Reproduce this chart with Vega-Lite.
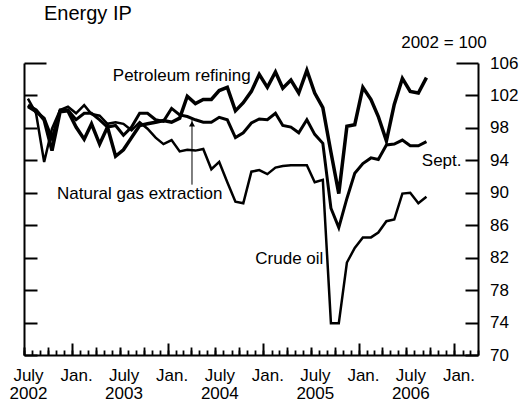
{
  "$schema": "https://vega.github.io/schema/vega-lite/v6.json",
  "width": 454,
  "height": 292,
  "autosize": {"type": "none"},
  "padding": {"left": 24, "top": 63, "right": 42, "bottom": 49},
  "background": "white",
  "title": {"text": "Energy IP", "anchor": "start", "frame": "group", "dx": 20, "fontSize": 20, "fontWeight": "normal", "font": "Liberation Sans", "color": "black", "offset": 10},
  "config": {"view": {"stroke": null}, "font": "Liberation Sans"},
  "resolve": {"axis": {"x": "independent", "y": "independent"}},
  "layer": [
    {
      "data": {"values": [
        {"date": "2002-07-16", "Petroleum refining": 100.8, "Natural gas extraction": 100.6, "Crude oil": 101.6},
        {"date": "2002-08-16", "Petroleum refining": 100.2, "Natural gas extraction": 100.0, "Crude oil": 99.8},
        {"date": "2002-09-16", "Petroleum refining": 99.0, "Natural gas extraction": 99.2, "Crude oil": 93.8},
        {"date": "2002-10-16", "Petroleum refining": 95.2, "Natural gas extraction": 96.7, "Crude oil": 97.9},
        {"date": "2002-11-16", "Petroleum refining": 100.0, "Natural gas extraction": 100.2, "Crude oil": 100.2},
        {"date": "2002-12-16", "Petroleum refining": 100.1, "Natural gas extraction": 100.2, "Crude oil": 100.6},
        {"date": "2003-01-16", "Petroleum refining": 98.1, "Natural gas extraction": 99.0, "Crude oil": 99.8},
        {"date": "2003-02-16", "Petroleum refining": 96.6, "Natural gas extraction": 99.8, "Crude oil": 100.8},
        {"date": "2003-03-16", "Petroleum refining": 98.5, "Natural gas extraction": 99.8, "Crude oil": 99.7},
        {"date": "2003-04-16", "Petroleum refining": 96.0, "Natural gas extraction": 99.0, "Crude oil": 99.5},
        {"date": "2003-05-16", "Petroleum refining": 98.1, "Natural gas extraction": 98.1, "Crude oil": 98.5},
        {"date": "2003-06-16", "Petroleum refining": 94.5, "Natural gas extraction": 98.3, "Crude oil": 98.7},
        {"date": "2003-07-16", "Petroleum refining": 95.3, "Natural gas extraction": 97.1, "Crude oil": 98.5},
        {"date": "2003-08-16", "Petroleum refining": 96.8, "Natural gas extraction": 98.1, "Crude oil": 97.7},
        {"date": "2003-09-16", "Petroleum refining": 98.3, "Natural gas extraction": 99.8, "Crude oil": 98.7},
        {"date": "2003-10-16", "Petroleum refining": 98.5, "Natural gas extraction": 99.8, "Crude oil": 97.9},
        {"date": "2003-11-16", "Petroleum refining": 98.7, "Natural gas extraction": 99.0, "Crude oil": 96.8},
        {"date": "2003-12-16", "Petroleum refining": 98.9, "Natural gas extraction": 98.8, "Crude oil": 96.0},
        {"date": "2004-01-16", "Petroleum refining": 98.7, "Natural gas extraction": 100.4, "Crude oil": 96.5},
        {"date": "2004-02-16", "Petroleum refining": 99.2, "Natural gas extraction": 99.6, "Crude oil": 95.1},
        {"date": "2004-03-16", "Petroleum refining": 101.9, "Natural gas extraction": 99.4, "Crude oil": 95.3},
        {"date": "2004-04-16", "Petroleum refining": 101.0, "Natural gas extraction": 99.0, "Crude oil": 95.2},
        {"date": "2004-05-16", "Petroleum refining": 101.5, "Natural gas extraction": 98.7, "Crude oil": 95.4},
        {"date": "2004-06-16", "Petroleum refining": 101.5, "Natural gas extraction": 98.7, "Crude oil": 92.9},
        {"date": "2004-07-16", "Petroleum refining": 102.6, "Natural gas extraction": 99.3, "Crude oil": 93.8},
        {"date": "2004-08-16", "Petroleum refining": 103.0, "Natural gas extraction": 99.0, "Crude oil": 91.3},
        {"date": "2004-09-16", "Petroleum refining": 100.1, "Natural gas extraction": 96.8, "Crude oil": 88.9},
        {"date": "2004-10-16", "Petroleum refining": 101.1, "Natural gas extraction": 97.4, "Crude oil": 88.7},
        {"date": "2004-11-16", "Petroleum refining": 102.5, "Natural gas extraction": 98.6, "Crude oil": 92.6},
        {"date": "2004-12-16", "Petroleum refining": 104.6, "Natural gas extraction": 99.1, "Crude oil": 92.8},
        {"date": "2005-01-16", "Petroleum refining": 103.0, "Natural gas extraction": 99.0, "Crude oil": 92.3},
        {"date": "2005-02-16", "Petroleum refining": 104.9, "Natural gas extraction": 99.8, "Crude oil": 93.1},
        {"date": "2005-03-16", "Petroleum refining": 102.9, "Natural gas extraction": 98.3, "Crude oil": 93.3},
        {"date": "2005-04-16", "Petroleum refining": 103.9, "Natural gas extraction": 98.1, "Crude oil": 93.4},
        {"date": "2005-05-16", "Petroleum refining": 102.3, "Natural gas extraction": 97.4, "Crude oil": 93.4},
        {"date": "2005-06-16", "Petroleum refining": 105.1, "Natural gas extraction": 99.0, "Crude oil": 93.4},
        {"date": "2005-07-16", "Petroleum refining": 102.3, "Natural gas extraction": 97.2, "Crude oil": 91.3},
        {"date": "2005-08-16", "Petroleum refining": 100.5, "Natural gas extraction": 96.1, "Crude oil": 91.6},
        {"date": "2005-09-16", "Petroleum refining": 95.0, "Natural gas extraction": 88.1, "Crude oil": 73.9},
        {"date": "2005-10-16", "Petroleum refining": 89.9, "Natural gas extraction": 85.7, "Crude oil": 73.9},
        {"date": "2005-11-16", "Petroleum refining": 98.2, "Natural gas extraction": 89.3, "Crude oil": 81.4},
        {"date": "2005-12-16", "Petroleum refining": 98.4, "Natural gas extraction": 92.4, "Crude oil": 83.2},
        {"date": "2006-01-16", "Petroleum refining": 103.0, "Natural gas extraction": 93.6, "Crude oil": 84.5},
        {"date": "2006-02-16", "Petroleum refining": 101.5, "Natural gas extraction": 94.3, "Crude oil": 84.5},
        {"date": "2006-03-16", "Petroleum refining": 99.4, "Natural gas extraction": 94.1, "Crude oil": 85.1},
        {"date": "2006-04-16", "Petroleum refining": 96.4, "Natural gas extraction": 95.9, "Crude oil": 86.5},
        {"date": "2006-05-16", "Petroleum refining": 100.9, "Natural gas extraction": 96.0, "Crude oil": 86.7},
        {"date": "2006-06-16", "Petroleum refining": 104.1, "Natural gas extraction": 96.5, "Crude oil": 89.9},
        {"date": "2006-07-16", "Petroleum refining": 102.5, "Natural gas extraction": 95.8, "Crude oil": 90.0},
        {"date": "2006-08-16", "Petroleum refining": 102.3, "Natural gas extraction": 95.8, "Crude oil": 88.7},
        {"date": "2006-09-16", "Petroleum refining": 104.2, "Natural gas extraction": 96.3, "Crude oil": 89.5}
      ]},
      "transform": [{"fold": ["Petroleum refining", "Natural gas extraction", "Crude oil"], "as": ["series", "value"]}],
      "mark": {"type": "line", "color": "black", "strokeJoin": "miter"},
      "encoding": {
        "x": {
          "field": "date", "type": "temporal",
          "scale": {"domain": [{"year": 2002, "month": 7, "date": 1}, {"year": 2007, "month": 4, "date": 1}]},
          "axis": {
            "orient": "bottom", "title": null, "grid": false,
            "tickCount": {"interval": "month", "step": 1},
            "tickSize": {"condition": {"test": "datum.value > 0", "value": -5}, "value": -5},
            "tickWidth": 1.8, "tickColor": "black",
            "domainColor": "black", "domainWidth": 2,
            "labels": false
          }
        },
        "y": {
          "field": "value", "type": "quantitative",
          "scale": {"domain": [70, 106], "nice": false, "zero": false},
          "axis": {
            "orient": "right", "title": null, "grid": false,
            "values": [70, 74, 78, 82, 86, 90, 94, 98, 102, 106],
            "tickSize": {"condition": {"test": "datum.value == 106", "value": -22}, "value": -13},
            "labelPadding": {"condition": {"test": "datum.value == 106", "value": 33.5}, "value": 24.5},
            "tickWidth": 2, "tickColor": "black", "domainColor": "black", "domainWidth": 2,
            "labelFontSize": 17, "labelFont": "Liberation Sans", "labelColor": "black"
          }
        },
        "strokeWidth": {
          "field": "series", "type": "nominal",
          "scale": {"domain": ["Petroleum refining", "Natural gas extraction", "Crude oil"], "range": [3.5, 2.5, 1.1]},
          "legend": null
        }
      }
    },
    {
      "data": {"values": [{"date": "2004-04-03", "v": 91.0, "v2": 99.0}]},
      "mark": {"type": "rule", "color": "black", "strokeWidth": 1},
      "encoding": {
        "x": {
          "field": "date", "type": "temporal",
          "axis": {
            "orient": "bottom", "title": null, "grid": false, "domain": false, "labels": false,
            "values": [
              {"year": 2002, "month": 10, "date": 1}, {"year": 2003, "month": 4, "date": 1}, {"year": 2003, "month": 10, "date": 1},
              {"year": 2004, "month": 4, "date": 1}, {"year": 2004, "month": 10, "date": 1}, {"year": 2005, "month": 4, "date": 1},
              {"year": 2005, "month": 10, "date": 1}, {"year": 2006, "month": 4, "date": 1}, {"year": 2006, "month": 10, "date": 1}
            ],
            "tickSize": {"condition": {"test": "datum.value > 0", "value": -8}, "value": -8},
            "tickWidth": 1.8, "tickColor": "black"
          }
        },
        "y": {
          "field": "v", "type": "quantitative",
          "axis": {
            "orient": "left", "title": null, "grid": false, "labels": false,
            "values": [70, 74, 78, 82, 86, 90, 94, 98, 102, 106],
            "tickSize": {"condition": {"test": "datum.value == 106", "value": -22}, "value": -13},
            "tickWidth": 2, "tickColor": "black", "domainColor": "black", "domainWidth": 2
          }
        },
        "y2": {"field": "v2"}
      }
    },
    {
      "data": {"values": [{"date": "2004-04-03", "v": 98.5}]},
      "mark": {"type": "point", "shape": "triangle-up", "filled": true, "color": "black", "size": 36, "opacity": 1},
      "encoding": {
        "x": {
          "field": "date", "type": "temporal",
          "axis": {
            "orient": "bottom", "title": null, "grid": false, "domain": false,
            "values": [
              {"year": 2003, "month": 1, "date": 1}, {"year": 2004, "month": 1, "date": 1}, {"year": 2005, "month": 1, "date": 1},
              {"year": 2006, "month": 1, "date": 1}, {"year": 2007, "month": 1, "date": 1}
            ],
            "tickSize": {"condition": {"test": "datum.value > 0", "value": -12}, "value": -12},
            "tickWidth": 2, "tickColor": "black",
            "labelExpr": "'Jan.'",
            "labelPadding": 24.2, "labelOffset": 4,
            "labelFontSize": 17, "labelFont": "Liberation Sans", "labelColor": "black",
            "labelFlush": false, "labelOverlap": false, "labelBound": false
          }
        },
        "y": {"field": "v", "type": "quantitative", "axis": null}
      }
    },
    {
      "data": {"values": [
        {"date": "2004-02-24", "v": 103.8, "label": "Petroleum refining"},
        {"date": "2003-09-16", "v": 89.2, "label": "Natural gas extraction"},
        {"date": "2005-04-10", "v": 81.2, "label": "Crude oil"},
        {"date": "2006-11-22", "v": 107.8, "label": "2002 = 100"}
      ]},
      "mark": {"type": "text", "fontSize": 17, "font": "Liberation Sans", "align": "center", "baseline": "alphabetic", "color": "black"},
      "encoding": {
        "x": {
          "field": "date", "type": "temporal",
          "axis": {
            "orient": "bottom", "title": null, "grid": false, "domain": false,
            "values": [
              {"year": 2002, "month": 7, "date": 1}, {"year": 2003, "month": 7, "date": 1}, {"year": 2004, "month": 7, "date": 1},
              {"year": 2005, "month": 7, "date": 1}, {"year": 2006, "month": 7, "date": 1}
            ],
            "tickSize": {"condition": {"test": "datum.value > 0", "value": -8}, "value": -8},
            "tickWidth": 2, "tickColor": "black",
            "labelExpr": "['July', timeFormat(datum.value, '%Y')]",
            "labelPadding": 20.2, "labelOffset": 4, "labelLineHeight": 18,
            "labelFontSize": 17, "labelFont": "Liberation Sans", "labelColor": "black",
            "labelFlush": false, "labelOverlap": false, "labelBound": false
          }
        },
        "y": {"field": "v", "type": "quantitative", "axis": null},
        "text": {"field": "label"}
      }
    },
    {
      "data": {"values": [{"date": "2007-01-28", "v": 93.3, "label": "Sept."}]},
      "mark": {"type": "text", "fontSize": 17, "font": "Liberation Sans", "align": "right", "baseline": "alphabetic", "color": "black"},
      "encoding": {
        "x": {"field": "date", "type": "temporal", "axis": null},
        "y": {"field": "v", "type": "quantitative", "axis": null},
        "text": {"field": "label"}
      }
    }
  ]
}
